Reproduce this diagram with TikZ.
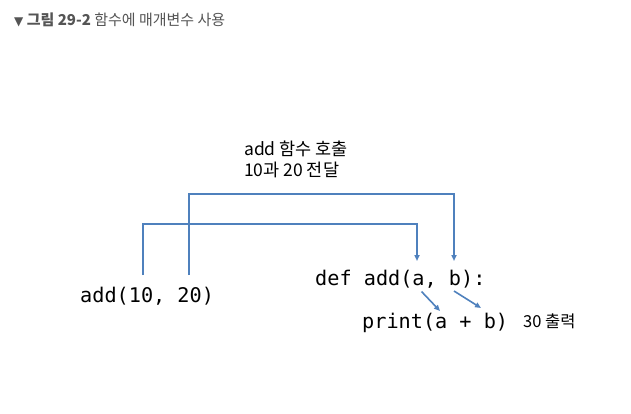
\documentclass[tikz,border=0pt]{standalone}
\usepackage{fontspec}
\setmainfont{Noto Sans CJK KR}
\newfontfamily\codefont{DejaVu Sans Mono}
\newfontfamily\krfont{Noto Sans CJK KR}
\newfontfamily\symfont{DejaVu Sans}
\usetikzlibrary{arrows.meta}
\definecolor{lineblue}{HTML}{4F81BD}
\definecolor{titlegray}{HTML}{555555}
\tikzset{
  code/.style={font=\codefont\fontsize{20.2}{23}\selectfont, anchor=base west, inner sep=0pt, text=black},
  note/.style={font=\krfont\fontsize{17.5}{20}\selectfont, anchor=base west, inner sep=0pt, text=black},
  conn/.style={draw=lineblue, line width=1.6pt, -{Triangle[length=6pt,width=5pt]}},
  titletext/.style={font=\krfont\fontsize{15}{18}\selectfont, anchor=base west, inner sep=0pt, text=titlegray}
}
\begin{document}
\begin{tikzpicture}[x=1pt,y=-1pt]
\useasboundingbox (0,0) rectangle (631,413);
\fill[white] (0,0) rectangle (631,413);
% title
\node[titletext] (title) at (14,25) {{\symfont\fontsize{12}{14}\selectfont ▼} \textbf{그림 29-2} 함수에 매개변수 사용};
% labels
\node[note] (lab1) at (244,155) {add 함수 호출};
\node[note] (lab2) at (244,176) {10과 20 전달};
% code
\node[code] (call) at (80,302) {add(10, 20)};
\node[code] (def) at (315,285) {def add(a, b):};
\node[code] (pr) at (362,328) {print(a + b)};
\node[note, font=\krfont\fontsize{16.5}{19}\selectfont] (out) at (523,327) {30 출력};
% anchor coordinates
\coordinate (p10) at (143,275);
\coordinate (p20) at (189,275);
\coordinate (pa) at (417,261);
\coordinate (pb) at (454,261);
\coordinate (da) at (421.5,291.5);
\coordinate (db) at (454,291);
\coordinate (ra) at (440,311);
\coordinate (rb) at (481,308);
% connectors
\draw[conn] (p10) |- (pa |- 0,224) -- (pa);
\draw[conn] (p20) |- (pb |- 0,194) -- (pb);
\draw[conn] (da) -- (ra);
\draw[conn] (db) -- (rb);
\end{tikzpicture}
\end{document}
